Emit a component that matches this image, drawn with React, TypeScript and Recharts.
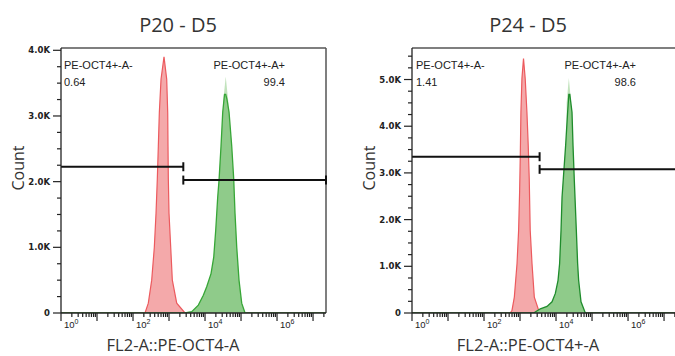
import React from 'react';
import { ComposedChart, Area, XAxis, YAxis, ReferenceLine } from 'recharts';

// x values are log10 of the FL2-A intensity, y values are event counts
const X_MAX = 7.36;
const decades = [0, 1, 2, 3, 4, 5, 6, 7];
const labeledDecades = [0, 2, 4, 6];

// P20 - D5
const p20NegLog = [0, 2.333, 2.425, 2.519, 2.592, 2.639, 2.675, 2.703, 2.731, 2.778, 2.861, 2.936, 2.964, 2.972, 2.981, 3.0, 3.047, 3.092, 3.214, 3.444, 7.36];
const p20NegCount = [0, 0, 150, 500, 1000, 1520, 2040, 2540, 3050, 3560, 3900, 3560, 3050, 2540, 2040, 1520, 1000, 500, 150, 0, 0];
const p20PosLog = [0, 3.444, 3.631, 3.814, 3.953, 4.047, 4.167, 4.242, 4.297, 4.353, 4.389, 4.444, 4.492, 4.542, 4.575, 4.611, 4.667, 4.742, 4.797, 4.833, 4.881, 4.944, 5.019, 5.111, 7.36];
const p20PosCount = [0, 0, 20, 120, 270, 400, 600, 850, 1260, 1770, 2020, 2540, 3060, 3330, 3330, 3250, 3060, 2540, 2040, 1520, 1000, 500, 150, 0, 0];
const p20TipLog = [4.495, 4.5, 4.575, 4.65, 4.655];
const p20TipCount = [0, 3200, 3600, 3200, 0];

// P24 - D5
const p24NegLog = [0, 2.731, 2.778, 2.842, 2.917, 2.961, 2.989, 3.008, 3.025, 3.053, 3.097, 3.144, 3.192, 3.228, 3.256, 3.283, 3.333, 3.397, 3.517, 3.611, 7.36];
const p24NegCount = [0, 0, 60, 340, 1060, 1770, 2600, 3400, 4300, 5020, 5450, 5020, 4300, 3590, 2880, 1770, 1060, 340, 60, 0, 0];
const p24PosLog = [0, 3.378, 3.564, 3.75, 3.889, 3.981, 4.056, 4.1, 4.139, 4.167, 4.203, 4.267, 4.322, 4.356, 4.383, 4.444, 4.472, 4.508, 4.564, 4.6, 4.628, 4.694, 4.814, 7.36];
const p24PosCount = [0, 0, 90, 140, 240, 420, 700, 1060, 1770, 2480, 2880, 3590, 4300, 4680, 4680, 4300, 3590, 2840, 1770, 1060, 700, 240, 0, 0];
const p24TipLog = [4.29, 4.295, 4.356, 4.42, 4.425];
const p24TipCount = [0, 4500, 5030, 4500, 0];

const panels = [
  {
    title: 'P20 - D5',
    xLabel: 'FL2-A::PE-OCT4-A',
    negName: 'PE-OCT4+-A-',
    posName: 'PE-OCT4+-A+',
    negPct: '0.64',
    posPct: '99.4',
    yMax: 4035,
    gateX: 3.397,
    gateNegY: 2227,
    gatePosY: 2024,
    posStroke: '#37a637',
    neg: [p20NegLog, p20NegCount],
    pos: [p20PosLog, p20PosCount],
    tip: [p20TipLog, p20TipCount],
  },
  {
    title: 'P24 - D5',
    xLabel: 'FL2-A::PE-OCT4+-A',
    negName: 'PE-OCT4+-A-',
    posName: 'PE-OCT4+-A+',
    negPct: '1.41',
    posPct: '98.6',
    yMax: 5675,
    gateX: 3.544,
    gateNegY: 3347,
    gatePosY: 3077,
    posStroke: '#1f8c2c',
    neg: [p24NegLog, p24NegCount],
    pos: [p24PosLog, p24PosCount],
    tip: [p24TipLog, p24TipCount],
  },
];

const xTicks: number[] = [];
decades.forEach((d) => {
  for (let m = 1; m <= 9; m++) {
    const v = d + Math.log10(m);
    if (v <= X_MAX) xTicks.push(v);
  }
});

function buildRows(series: Record<string, number[][]>) {
  const rows: any[] = [];
  Object.keys(series).forEach((key) => {
    const [xs, ys] = series[key];
    xs.forEach((x, i) => rows.push({ x, [key]: ys[i] }));
  });
  return rows.sort((a, b) => a.x - b.x);
}

const XTick = ({ x, y, payload }: any) => {
  const v = payload.value;
  const d = Math.round(v);
  const isDecade = Math.abs(v - d) < 1e-6;
  const showLabel = isDecade && labeledDecades.includes(d);
  return (
    <g>
      <line x1={x} x2={x} y1={y} y2={y + (isDecade ? 8 : 4)} stroke="#222" strokeWidth={1.2} />
      {showLabel && (
        <text x={x + 3} y={y + 15} fontSize={9.5} fontFamily="Liberation Sans" fill="#222">
          10<tspan dy={-4} fontSize={7}>{d}</tspan>
        </text>
      )}
    </g>
  );
};

const YTick = ({ x, y, payload }: any) => {
  const v = payload.value;
  const major = v % 1000 === 0;
  return (
    <g>
      <line x1={x - (major ? 8 : 4)} x2={x} y1={y} y2={y} stroke="#222" strokeWidth={1.2} />
      {major && (
        <text x={x - 11} y={y + 3} textAnchor="end" fontSize={8.5} fontWeight="bold" fontFamily="DejaVu Sans" fill="#222">
          {v === 0 ? '0' : `${(v / 1000).toFixed(1)}K`}
        </text>
      )}
    </g>
  );
};

function Panel({ p, left, yAxisWidth }: any) {
  const rows = buildRows({ neg: p.neg, pos: p.pos, tip: p.tip });
  const yTicks: number[] = [];
  for (let v = 0; v <= p.yMax; v += 250) yTicks.push(v);
  const cap = (4.5 * p.yMax) / 265;
  const rightMargin = 340 - yAxisWidth - 265;
  return (
    <div style={{ position: 'absolute', left, top: 0 }}>
      <ComposedChart width={340} height={356} data={rows} margin={{ top: 48, right: rightMargin, bottom: 13, left: 0 }}>
        <XAxis
          dataKey="x"
          type="number"
          domain={[0, X_MAX]}
          allowDataOverflow
          ticks={xTicks}
          interval={0}
          tick={<XTick />}
          tickLine={false}
          tickSize={0}
          tickMargin={0}
          height={30}
          axisLine={{ stroke: '#222', strokeWidth: 1.3 }}
        />
        <YAxis
          type="number"
          domain={[0, p.yMax]}
          allowDataOverflow
          ticks={yTicks}
          interval={0}
          tick={<YTick />}
          tickLine={false}
          tickSize={0}
          tickMargin={0}
          width={yAxisWidth}
          axisLine={{ stroke: '#222', strokeWidth: 1.3 }}
        />
        <Area dataKey="tip" type="linear" connectNulls stroke="none" fill="#c2e3bd" fillOpacity={1} isAnimationActive={false} />
        <Area dataKey="neg" type="linear" connectNulls stroke="#ec5a5e" strokeWidth={1.2} fill="#f4a9aa" fillOpacity={1} isAnimationActive={false} />
        <Area dataKey="pos" type="linear" connectNulls stroke={p.posStroke} strokeWidth={1.3} fill="#8fcb8a" fillOpacity={1} isAnimationActive={false} />
        <ReferenceLine y={p.yMax} stroke="#555" strokeWidth={1.5} />
        <ReferenceLine x={X_MAX} stroke="#555" strokeWidth={1.5} />
        <ReferenceLine segment={[{ x: 0, y: p.gateNegY }, { x: p.gateX, y: p.gateNegY }]} stroke="#111" strokeWidth={2} />
        <ReferenceLine segment={[{ x: p.gateX, y: p.gateNegY - cap }, { x: p.gateX, y: p.gateNegY + cap }]} stroke="#111" strokeWidth={2} />
        <ReferenceLine segment={[{ x: p.gateX, y: p.gatePosY }, { x: X_MAX, y: p.gatePosY }]} stroke="#111" strokeWidth={2} />
        <ReferenceLine segment={[{ x: p.gateX, y: p.gatePosY - cap }, { x: p.gateX, y: p.gatePosY + cap }]} stroke="#111" strokeWidth={2} />
        <ReferenceLine segment={[{ x: X_MAX, y: p.gatePosY - cap }, { x: X_MAX, y: p.gatePosY + cap }]} stroke="#111" strokeWidth={2} />
      </ComposedChart>
    </div>
  );
}

const labelFont = { fontFamily: 'Liberation Sans', fontSize: 11, fill: '#222' };
const titleFont = { fontFamily: 'Open Sans', fill: '#333' };

export default function App() {
  const spots = [
    { titleX: 178, countX: 18.5, xLabelX: 173, negX: 64, posX: 285 },
    { titleX: 528, countX: 369, xLabelX: 528, negX: 416, posX: 636 },
  ];
  return (
    <div style={{ position: 'fixed', left: 0, top: 0, width: 675, height: 356, overflow: 'hidden', background: '#fff' }}>
      <Panel p={panels[0]} left={0} yAxisWidth={61} />
      <Panel p={panels[1]} left={340} yAxisWidth={72} />
      <svg width={675} height={356} style={{ position: 'absolute', left: 0, top: 0, pointerEvents: 'none' }}>
        {panels.map((p, i) => {
          const s = spots[i];
          return (
            <g key={p.title}>
              <text x={s.titleX} y={31.5} textAnchor="middle" fontSize={20} {...titleFont}>{p.title}</text>
              <text transform={`translate(${s.countX},168) rotate(-90)`} textAnchor="middle" dy="0.36em" fontSize={16} {...titleFont}>Count</text>
              <text x={s.xLabelX} y={351} textAnchor="middle" fontSize={16.5} {...titleFont}>{p.xLabel}</text>
              <text x={s.negX} y={69} {...labelFont}>{p.negName}</text>
              <text x={s.negX} y={86} {...labelFont}>{p.negPct}</text>
              <text x={s.posX} y={69} textAnchor="end" {...labelFont}>{p.posName}</text>
              <text x={s.posX} y={86} textAnchor="end" {...labelFont}>{p.posPct}</text>
            </g>
          );
        })}
      </svg>
    </div>
  );
}
